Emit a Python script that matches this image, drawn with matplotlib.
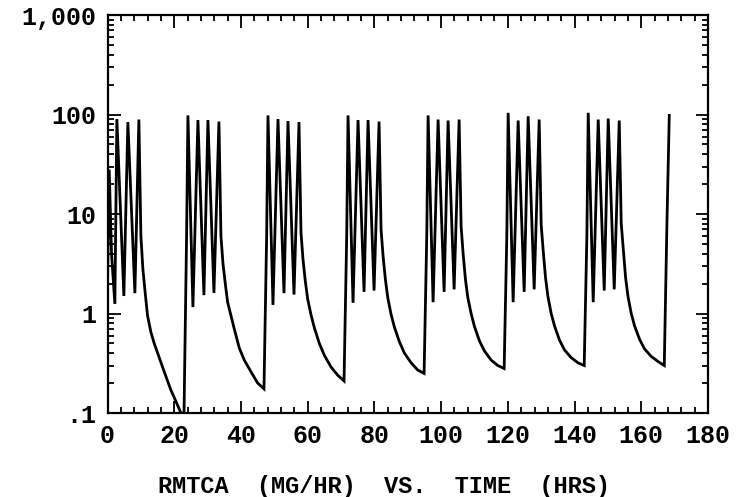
import matplotlib
matplotlib.use('Agg')
import matplotlib.pyplot as plt
from matplotlib.ticker import MultipleLocator, LogLocator, NullFormatter

# first day (hours from start)
day0_t = [0.0, 0.5, 1.2, 2.2, 2.8, 4.9, 6.1, 8.2, 9.4,
          10.0, 10.6, 11.3, 12.0, 13.0, 14.0, 15.5, 17.0, 19.0, 21.0, 22.9]
day0_v = [2.0, 28, 4.0, 1.25, 90, 1.5, 84, 1.6, 89,
          6.0, 2.8, 1.6, 0.95, 0.65, 0.5, 0.36, 0.26, 0.17, 0.12, 0.085]

# following days, 4 spikes then the overnight decay
day_starts = [24, 48, 72, 96, 120, 144]
spike_offsets = [-0.3, 0.1, 1.6, 3.1, 4.9, 6.1, 7.9, 9.4]
rise_kink = 6.0
peaks = [[98, 88, 88, 85],
         [98, 90, 86, 84],
         [98, 88, 88, 85],
         [98, 89, 87, 89],
         [104, 87, 96, 89],
         [104, 89, 91, 87]]
troughs = [[1.16, 1.53, 1.61],
           [1.22, 1.6, 1.55],
           [1.28, 1.65, 1.7],
           [1.3, 1.65, 1.75],
           [1.3, 1.65, 1.75],
           [1.3, 1.7, 1.75]]
tail_offsets = [10.0, 10.6, 11.3, 12.0, 13.0, 14.0, 15.5, 17.0, 19.0, 21.0, 22.9]
tails = [[6.0, 3.2, 2.0, 1.3, 0.95, 0.7, 0.45, 0.34, 0.26, 0.2, 0.175],
         [6.5, 3.5, 2.1, 1.4, 0.97, 0.72, 0.5, 0.38, 0.29, 0.24, 0.21],
         [7.0, 3.8, 2.2, 1.45, 0.98, 0.73, 0.52, 0.40, 0.32, 0.27, 0.25],
         [7.5, 4.0, 2.2, 1.45, 1.0, 0.74, 0.53, 0.42, 0.34, 0.30, 0.28],
         [7.8, 4.3, 2.3, 1.5, 1.0, 0.75, 0.54, 0.43, 0.36, 0.32, 0.30],
         [8.0, 4.5, 2.3, 1.5, 1.0, 0.75, 0.55, 0.44, 0.37, 0.33, 0.30]]

# last dose at 168 h
last_t = [167.7, 168.4]
last_v = [8.0, 98]

t = list(day0_t)
v = list(day0_v)
for i, t0 in enumerate(day_starts):
    p = peaks[i]
    tr = troughs[i]
    vals = [rise_kink, p[0], tr[0], p[1], tr[1], p[2], tr[2], p[3]] + tails[i]
    offs = spike_offsets + tail_offsets
    t += [t0 + o for o in offs]
    v += vals
t += last_t
v += last_v

font = 'Liberation Mono'

fig = plt.figure(figsize=(7.38, 4.97), dpi=100)
ax = fig.add_axes([0.1457, 0.169, 0.8136, 0.8008])
ax.plot(t, v, color='black', lw=2.0, solid_joinstyle='miter')

ax.set_yscale('log')
ax.set_ylim(0.1, 1000)
ax.set_xlim(0, 180)

ax.set_yticks([0.1, 1, 10, 100, 1000])
ax.set_yticklabels(['.1', '1', '10', '100', '1,000'])
ax.yaxis.set_minor_locator(LogLocator(base=10, subs=range(2, 10)))
ax.yaxis.set_minor_formatter(NullFormatter())
ax.set_xticks(range(0, 181, 20))
ax.xaxis.set_minor_locator(MultipleLocator(4))

ax.tick_params(which='both', direction='in', top=True, right=True, width=1.3)
ax.tick_params(which='major', length=9, pad=8)
ax.tick_params(which='minor', length=4.5)
for s in ax.spines.values():
    s.set_linewidth(1.6)

for lab in ax.get_xticklabels() + ax.get_yticklabels():
    lab.set_fontfamily(font)
    lab.set_fontweight('bold')
    lab.set_fontsize(18)

fig.text(0.52, 0.022, 'RMTCA  (MG/HR)  VS.  TIME  (HRS)', ha='center', va='center',
         fontfamily=font, fontweight='bold', fontsize=17)

fig.savefig('out.png', dpi=100)
